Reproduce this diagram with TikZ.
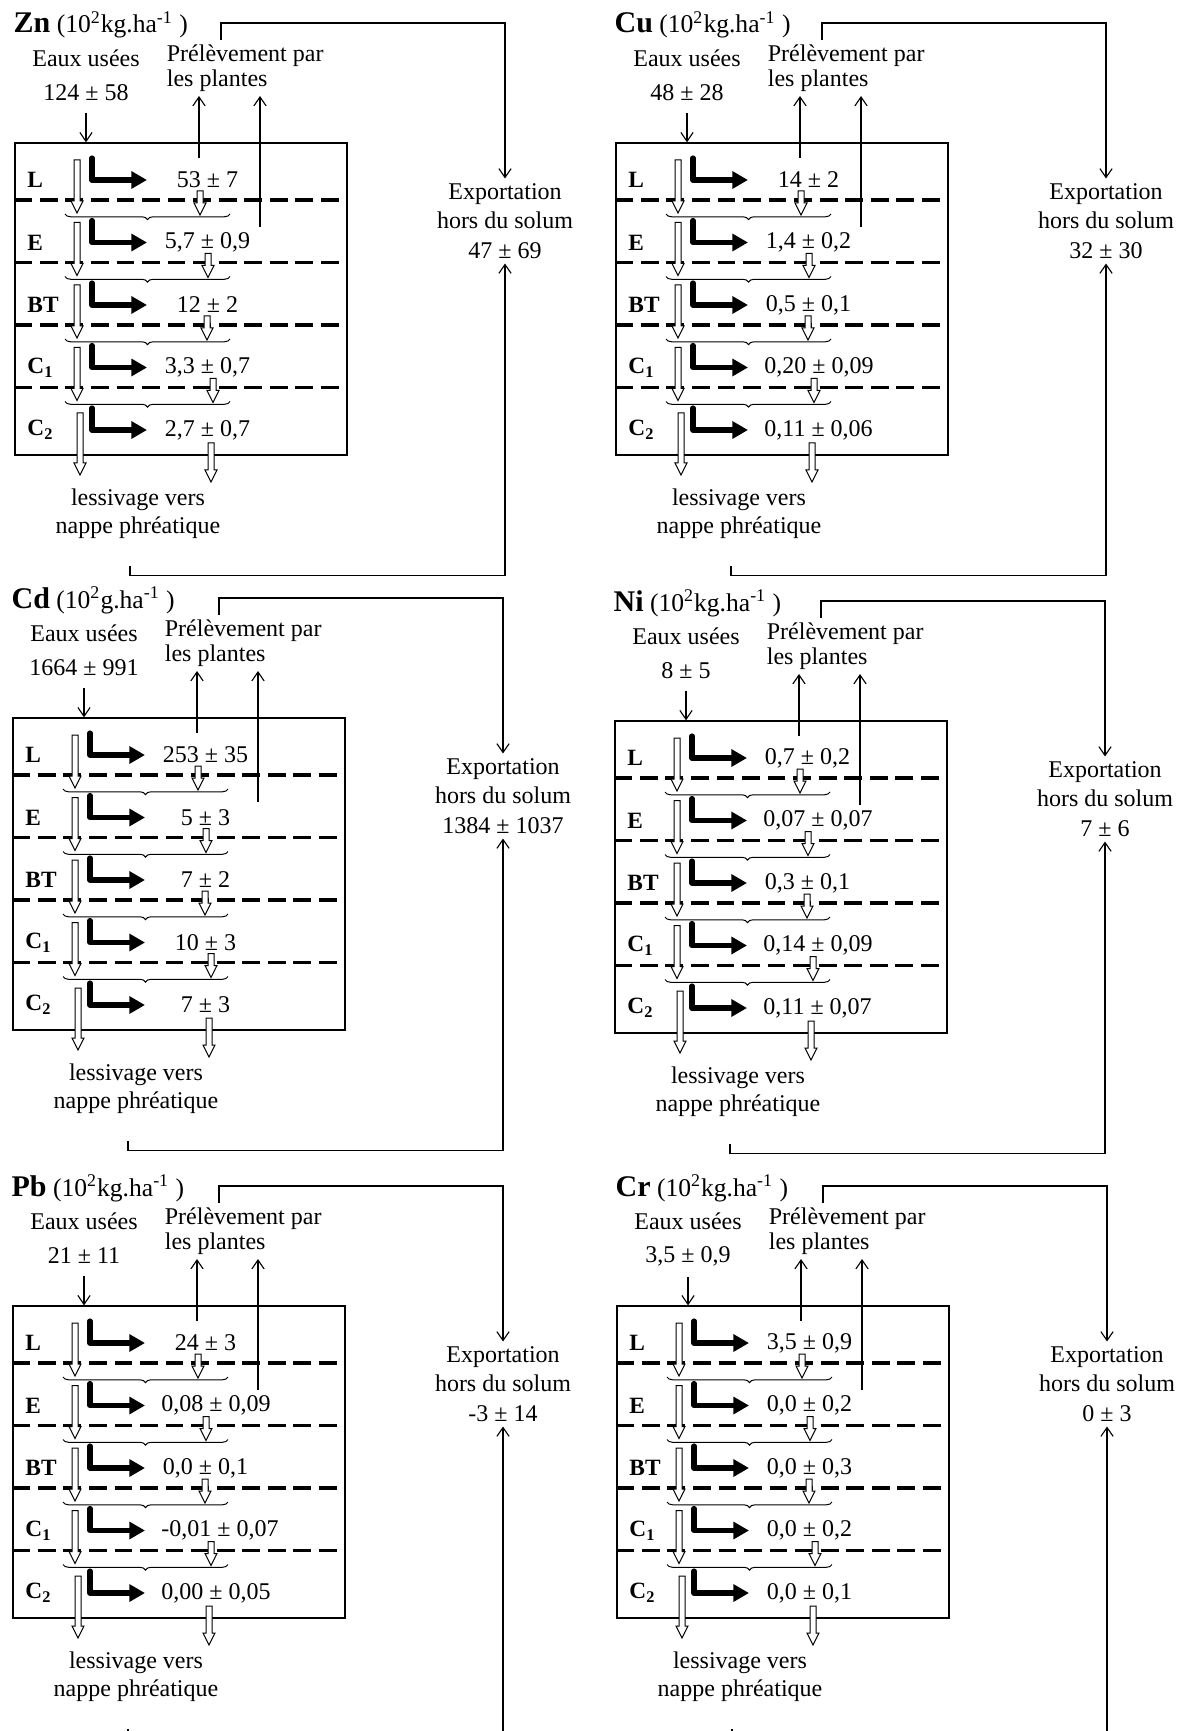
\documentclass[tikz,border=0pt]{standalone}
\usepackage{fontspec}
\setmainfont{Liberation Serif}
\usetikzlibrary{positioning, arrows.meta, calc, fit, decorations.pathreplacing}

% one soil profile: #1 shift, #2 element, #3 unit, #4 input, #5 export, #6 layer values
\newcommand{\soilpanel}[6]{%
\begin{scope}[shift={#1}, name prefix=#2-]
    % heading, inputs and outputs
    \node[title] (head) at (11,25) {{\fontsize{13.5}{15}\selectfont\bfseries #2} (10\textsuperscript{2}#3.ha\textsuperscript{-1} )};
    \node[txt] (inlab) at (86,58) {Eaux usées};
    \node[txt] (inval) at (86,93) {#4};
    \node[txt, anchor=north west, align=left, font=\fontsize{10.8}{11}\selectfont] (pre) at (162,40) {Prélèvement par\\les plantes};
    \node[txt, font=\fontsize{10.8}{13.3}\selectfont] (exp) at (505,221) {Exportation\\hors du solum\\#5};
    \node[txt] (less) at (138,514) {lessivage vers\\nappe phréatique};
    \node[soilbox, fit={(15,143) (347,455)}] (box) {};

    % horizons
    \foreach \lay [count=\i] in {L,E,BT,C\textsubscript{1},C\textsubscript{2}} {
        \pgfmathsetmacro\ry{180+62.5*(\i-1)}
        \node[layer] (lay\i) at (27,\ry) {\lay};
    }
    \foreach \i in {1,...,4} {
        \pgfmathsetmacro\dy{200+62.5*(\i-1)}
        \draw[boundary] (box.west |- 0,\dy) -- (box.east |- 0,\dy);
        \draw[ubrace] (230,\dy+14) -- (65,\dy+14);
    }

    % fluxes in each horizon
    \foreach \val [count=\i] in {#6} {
        \pgfmathsetmacro\ry{180+62.5*(\i-1)}
        \pgfmathsetmacro\ax{{200,208,207,213,211}[\i-1]}
        \node[valnode] (v\i) at (163,\ry) {\val};
        \draw[transfer] (92,\ry-22) -- (92,\ry) -- (147,\ry);
        \ifnum\i<5
            \pic at (77,\ry-20) {hollow=53};
            \pic at (\ax,\ry+11) {hollow=24};
        \else
            \pic at (80,\ry-17) {hollow=62};
            \pic at (\ax,\ry+13) {hollow=39};
        \fi
    }

    % connectors
    \coordinate (up1) at (199,158);
    \coordinate (up2) at (260,227);
    \draw[link, shorten <=3pt] (inval) -- (inval |- box.north);
    \draw[link] (up1) -- (up1 |- pre.south);
    \draw[link] (up2) -- (up2 |- pre.south);
    \draw[link] (221,0 |- pre.north) -- (221,23) -| (exp.north);
    \draw[link] (130,0 |- less.south) ++(0,22) -- ++(0,10) -| (exp.south);
\end{scope}}

\begin{document}
\begin{tikzpicture}[
    x=0.45pt, y=-0.45pt,
    font=\fontsize{10.8}{12.6}\selectfont,
    % text
    txt/.style={inner sep=2pt, align=center},
    valnode/.style={anchor=west, inner sep=0pt, minimum width=39.6pt, align=center},
    title/.style={anchor=west, inner sep=1pt, font=\fontsize{11.5}{13}\selectfont},
    layer/.style={anchor=west, inner sep=0pt, font=\fontsize{10.5}{12}\selectfont\bfseries},
    % profile
    soilbox/.style={draw, line width=0.6pt, inner sep=0pt},
    boundary/.style={line width=1.5pt, dash pattern=on 8pt off 3.5pt},
    ubrace/.style={decorate, decoration={brace, amplitude=2.5pt}, line width=0.45pt},
    % arrows
    transfer/.style={line width=2.3pt, line cap=round, line join=round, -{Triangle[length=7pt, width=7.5pt]}},
    link/.style={line width=0.5pt, -{Straight Barb[length=4pt, width=5.5pt]}},
    hollowtip/.style={draw, fill=white, line width=0.45pt},
    pics/hollow/.style={code={
        \draw[hollowtip] (-3,0) -- (-3,#1-12) -- (-6,#1-12) -- (0,#1) -- (6,#1-12) -- (3,#1-12) -- (3,0) -- cycle;}}
]
\useasboundingbox (0,0) rectangle (1185,1731);
\clip (0,0) rectangle (1185,1731);

% left column
\soilpanel{(0,0)}{Zn}{kg}{124 ± 58}{47 ± 69}{{53 ± 7},{5,7 ± 0,9},{12 ± 2},{3,3 ± 0,7},{2,7 ± 0,7}}
\soilpanel{(-2,575)}{Cd}{g}{1664 ± 991}{1384 ± 1037}{{253 ± 35},{5 ± 3},{7 ± 2},{10 ± 3},{7 ± 3}}
\soilpanel{(-2,1163)}{Pb}{kg}{21 ± 11}{-3 ± 14}{{24 ± 3},{0,08 ± 0,09},{0,0 ± 0,1},{-0,01 ± 0,07},{0,00 ± 0,05}}

% right column
\soilpanel{(601,0)}{Cu}{kg}{48 ± 28}{32 ± 30}{{14 ± 2},{1,4 ± 0,2},{0,5 ± 0,1},{0,20 ± 0,09},{0,11 ± 0,06}}
\soilpanel{(600,578)}{Ni}{kg}{8 ± 5}{7 ± 6}{{0,7 ± 0,2},{0,07 ± 0,07},{0,3 ± 0,1},{0,14 ± 0,09},{0,11 ± 0,07}}
\soilpanel{(602,1163)}{Cr}{kg}{3,5 ± 0,9}{0 ± 3}{{3,5 ± 0,9},{0,0 ± 0,2},{0,0 ± 0,3},{0,0 ± 0,2},{0,0 ± 0,1}}

\end{tikzpicture}
\end{document}
